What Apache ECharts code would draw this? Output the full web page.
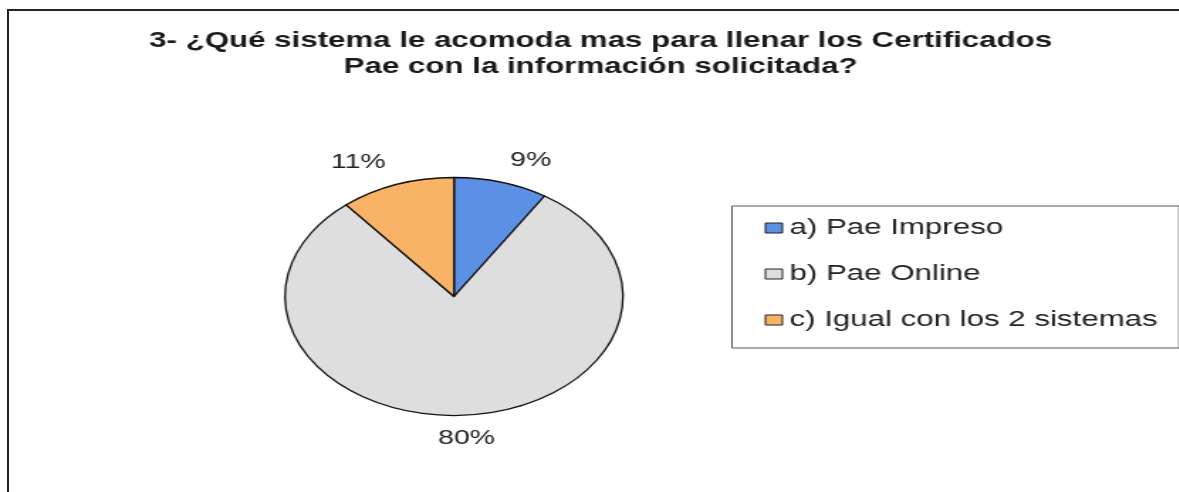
<!DOCTYPE html>
<html>
<head>
<meta charset="utf-8">
<title>Certificados Pae</title>
<script src="https://cdn.jsdelivr.net/npm/echarts@6.0.0/dist/echarts.min.js"></script>
<style>
  html, body { margin: 0; padding: 0; background: #fff; overflow: hidden; }
  /* outer chart frame: only its left and top edges fall inside the picture */
  #frame {
    position: absolute; left: 7px; top: 9px; width: 1300px; height: 600px;
    border-left: 2px solid #222; border-top: 2px solid #222;
  }
  /* the original chart is stretched sideways, so the whole canvas is too */
  #chart {
    position: absolute; left: 0; top: 0; width: 830px; height: 492px;
    transform: scaleX(1.42); transform-origin: 0 0;
  }
</style>
</head>
<body>
<div id="frame"></div>
<div id="chart"></div>
<script>
const titleLines = [
  "3- ¿Qué sistema le acomoda mas para llenar los Certificados",
  "Pae con la información solicitada?",
];
const categories = ["a) Pae Impreso", "b) Pae Online", "c) Igual con los 2 sistemas"];
const shares = [9, 80, 11];

const sliceColors = ["#5b90e4", "#dedede", "#f8b366"];
const fontFamily = "'Liberation Sans', Arial, sans-serif";

// slices whose middle points almost straight down get a centred label
const total = shares.reduce((a, b) => a + b, 0);
let acc = 0;
const centredLabel = shares.map((v) => {
  const mid = ((acc + v / 2) / total) * 360;
  acc += v;
  return Math.abs(mid - 180) < 30;
});

const chart = echarts.init(document.getElementById("chart"));
const option = {
  animation: false,
  title: {
    text: titleLines.join("\n"),
    left: 423,
    textAlign: "center",
    top: 28,
    padding: 0,
    textStyle: {
      fontFamily: fontFamily,
      fontSize: 22,
      fontWeight: "bold",
      lineHeight: 26,
      color: "#1a1a1a",
    },
  },
  legend: {
    orient: "vertical",
    left: 515.5,
    top: 206,
    padding: [10, 15, 16, 23],
    borderColor: "#555",
    borderWidth: 1,
    icon: "rect",
    itemWidth: 12,
    itemHeight: 10,
    itemGap: 22,
    selectedMode: false,
    itemStyle: { borderColor: "#222", borderWidth: 1 },
    textStyle: {
      fontFamily: fontFamily,
      fontSize: 22,
      lineHeight: 24,
      color: "#222",
    },
    data: categories,
  },
  series: [
    {
      name: "sistema",
      type: "pie",
      center: [319.7, 296.5],
      radius: 119,
      startAngle: 90,
      clockwise: true,
      avoidLabelOverlap: false,
      silent: true,
      itemStyle: { borderColor: "#111", borderWidth: 1.3 },
      label: {
        show: true,
        position: "outside",
        formatter: "{d}%",
        fontFamily: fontFamily,
        fontSize: 20,
        color: "#222",
        distanceToLabelLine: 0,
      },
      labelLine: { show: false, length: 23, length2: 0 },
      labelLayout: function (params) {
        return centredLabel[params.dataIndex] ? { align: "center" } : {};
      },
      emphasis: { disabled: true },
      data: categories.map((name, i) => ({
        name: name,
        value: shares[i],
        itemStyle: { color: sliceColors[i] },
      })),
    },
  ],
};
chart.setOption(option);
</script>
</body>
</html>
